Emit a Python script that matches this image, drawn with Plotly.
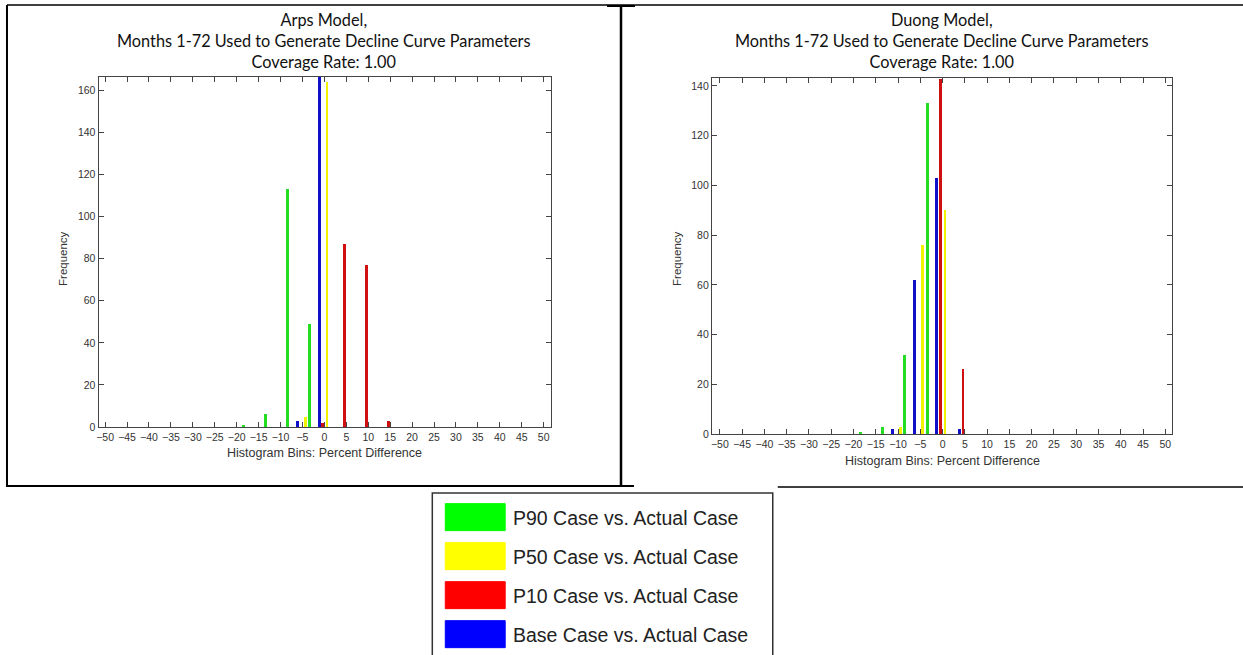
import plotly.graph_objects as go

W, H = 1243, 655

series_names = ["P90 Case vs. Actual Case", "P50 Case vs. Actual Case",
                "P10 Case vs. Actual Case", "Base Case vs. Actual Case"]
bar_colors = ["#22dd22", "#f2f200", "#d01010", "#1010c8"]
legend_colors = ["#00ff00", "#ffff00", "#ff0000", "#0000ff"]

# Arps model histogram (bin positions, percent difference) and frequencies
arps_p90_x = [-18.5, -13.5, -8.5, -3.5]
arps_p90_y = [1, 6, 113, 49]
arps_p50_x = [-4.5, 0.5]
arps_p50_y = [5, 164]
arps_p10_x = [-0.45, 4.55, 9.55, 14.55]
arps_p10_y = [2, 87, 77, 3]
arps_base_x = [-6.3, -1.3]
arps_base_y = [3, 166]

# Duong model histogram
duong_p90_x = [-18.5, -13.5, -8.5, -3.5]
duong_p90_y = [1, 3, 32, 133]
duong_p50_x = [-9.5, -4.5, 0.5]
duong_p50_y = [3, 76, 90]
duong_p10_x = [-0.45, 4.55]
duong_p10_y = [143, 26]
duong_base_x = [-11.3, -6.3, -1.3, 3.7]
duong_base_y = [2, 62, 103, 2]

x_ticks = list(range(-50, 55, 5))
arps_y_ticks = list(range(0, 161, 20))
duong_y_ticks = list(range(0, 141, 20))

arps_title = "Arps Model,<br>Months 1-72 Used to Generate Decline Curve Parameters<br>Coverage Rate: 1.00"
duong_title = "Duong Model,<br>Months 1-72 Used to Generate Decline Curve Parameters<br>Coverage Rate: 1.00"
x_title = "Histogram Bins: Percent Difference"
y_title = "Frequency"

YS = 1.0095  # vertical correction

def px(x):
    return x / W

def py(y):
    return 1 - (y * YS) / H

fig = go.Figure()

arps = [(arps_p90_x, arps_p90_y), (arps_p50_x, arps_p50_y),
        (arps_p10_x, arps_p10_y), (arps_base_x, arps_base_y)]
duong = [(duong_p90_x, duong_p90_y), (duong_p50_x, duong_p50_y),
         (duong_p10_x, duong_p10_y), (duong_base_x, duong_base_y)]

for i, (xs, ys) in enumerate(arps):
    fig.add_trace(go.Bar(x=xs, y=ys, width=0.65, marker_color=bar_colors[i],
                         marker_line_width=0, name=series_names[i],
                         xaxis="x", yaxis="y", showlegend=False))
for i, (xs, ys) in enumerate(duong):
    fig.add_trace(go.Bar(x=xs, y=ys, width=0.65, marker_color=bar_colors[i],
                         marker_line_width=0, name=series_names[i],
                         xaxis="x2", yaxis="y2", showlegend=False))

tickfont = dict(family="Liberation Sans, Arial", size=10.5, color="#333")
axis_common = dict(showgrid=False, zeroline=False, showline=True, linecolor="#444",
                   linewidth=1, ticks="inside", ticklen=5, tickcolor="#444",
                   mirror="allticks", tickfont=tickfont)

fig.update_layout(
    width=W, height=H, margin=dict(l=0, r=0, t=0, b=0),
    paper_bgcolor="white", plot_bgcolor="white", barmode="overlay", bargap=0,
    xaxis=dict(domain=[px(96.7), px(550)], range=[-51.5, 51.7], tickvals=x_ticks,
               anchor="y", **axis_common),
    yaxis=dict(domain=[py(427), py(77)], range=[0, 166.2], tickvals=arps_y_ticks,
               anchor="x", **axis_common),
    xaxis2=dict(domain=[px(711), px(1172.3)], range=[-51.8, 51.6], tickvals=x_ticks,
                anchor="y2", **axis_common),
    yaxis2=dict(domain=[py(434), py(78)], range=[0, 143.2], tickvals=duong_y_ticks,
                anchor="x2", **axis_common),
)

title_font = dict(family="Lato, Open Sans", size=16.3, color="#111")
label_font = dict(family="Liberation Sans, Arial", size=12.5, color="#333")
annotations = [
    dict(text=arps_title, x=px(323), y=py(7.5), xanchor="center", yanchor="top",
         showarrow=False, font=title_font, align="center", xref="paper", yref="paper"),
    dict(text=duong_title, x=px(942), y=py(7.5), xanchor="center", yanchor="top",
         showarrow=False, font=title_font, align="center", xref="paper", yref="paper"),
    dict(text=x_title, x=px(323), y=py(453), xanchor="center", yanchor="middle",
         showarrow=False, font=label_font, xref="paper", yref="paper"),
    dict(text=x_title, x=px(942), y=py(461), xanchor="center", yanchor="middle",
         showarrow=False, font=label_font, xref="paper", yref="paper"),
    dict(text=y_title, x=px(61), y=py(258), xanchor="center", yanchor="middle",
         textangle=-90, showarrow=False, font=dict(family="Liberation Sans, Arial", size=11.5, color="#333"),
         xref="paper", yref="paper"),
    dict(text=y_title, x=px(676), y=py(258), xanchor="center", yanchor="middle",
         textangle=-90, showarrow=False, font=dict(family="Liberation Sans, Arial", size=11.5, color="#333"),
         xref="paper", yref="paper"),
]

shapes = []
def line(x0, y0, x1, y1, w=2, c="black"):
    shapes.append(dict(type="line", xref="paper", yref="paper",
                       x0=px(x0), y0=py(y0), x1=px(x1), y1=py(y1),
                       line=dict(color=c, width=w)))

# frames
line(5, 5, 1243, 5, 1.5)
line(5, 5, 5, 487, 2)
line(620, 5, 620, 486, 2.5)
line(606, 6, 634, 6, 2)
line(5, 486, 633, 486, 2)
line(777, 487, 1243, 487, 1.5)

# legend box
shapes.append(dict(type="rect", xref="paper", yref="paper",
                   x0=px(431), y0=py(493), x1=px(772), y1=py(658),
                   line=dict(color="#333", width=1.5), fillcolor="white"))
legend_y = [517, 556, 595, 634]
for i, yc in enumerate(legend_y):
    shapes.append(dict(type="rect", xref="paper", yref="paper",
                       x0=px(444), y0=py(yc - 13.5), x1=px(504), y1=py(yc + 13.5),
                       line=dict(color=legend_colors[i], width=1), fillcolor=legend_colors[i]))
    annotations.append(dict(text=series_names[i], x=px(510), y=py(yc + 1), xanchor="left",
                            yanchor="middle", showarrow=False, xref="paper", yref="paper",
                            font=dict(family="Liberation Sans, Arial", size=19.5, color="#222")))

fig.update_layout(annotations=annotations, shapes=shapes)
post = ("document.documentElement.style.overflow='hidden';"
        "document.documentElement.style.margin='0';"
        "document.body.style.margin='0';document.body.style.padding='0';"
        "document.body.style.overflow='hidden';"
        "var g=document.getElementById('{plot_id}');"
        "if(g&&g.parentElement){g.parentElement.style.height='655px';"
        "g.parentElement.style.overflow='hidden';}")
fig.write_html("out.html", config={"displayModeBar": False}, post_script=post)
